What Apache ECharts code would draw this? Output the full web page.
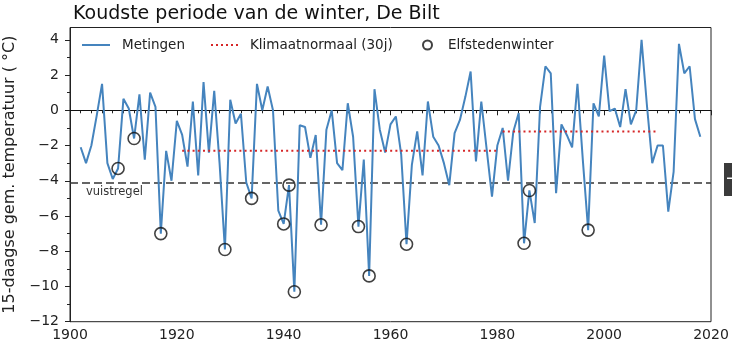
<!DOCTYPE html>
<html>
<head>
<meta charset="utf-8">
<script src="https://cdn.jsdelivr.net/npm/echarts@6/dist/echarts.min.js"></script>
<style>
  html, body { margin: 0; padding: 0; background: #fff; }
  #chart { width: 732px; height: 346px; }
</style>
</head>
<body>
<div id="chart"></div>
<script>
// Coldest 15-day period of each winter, De Bilt (°C), winters 1902–2018
const firstYear = 1902;
const temps = [
  -2.1, -3.0, -2.0, -0.3, 1.5, -3.0, -3.9, -3.3,                 // 1902–1909
  0.65, 0.1, -1.6, 0.9, -2.8, 1.0, 0.2, -7.0, -2.3, -4.0,         // 1910s
  -0.6, -1.4, -3.2, 0.5, -3.7, 1.6, -2.4, 1.1, -3.0, -7.9,        // 1920s
  0.6, -0.75, -0.2, -4.1, -5.0, 1.5, 0.0, 1.35, 0.0, -5.7,        // 1930s
  -6.45, -4.25, -10.3, -0.85, -0.95, -2.7, -1.4, -6.5, -1.1, 0.0, // 1940s
  -3.0, -3.4, 0.4, -1.5, -6.6, -2.8, -9.4, 1.2, -1.1, -2.4,       // 1950s
  -0.8, -0.35, -2.5, -7.6, -3.1, -1.2, -3.7, 0.5, -1.5, -2.0,     // 1960s
  -3.0, -4.25, -1.3, -0.55, 0.75, 2.2, -2.9, 0.5, -2.2, -4.9,     // 1970s
  -2.0, -1.0, -4.0, -1.2, -0.15, -7.55, -4.55, -6.4, 0.2, 2.5,    // 1980s
  2.1, -4.7, -0.8, -1.4, -2.1, 1.5, -2.8, -6.8, 0.4, -0.35,       // 1990s
  3.1, -0.05, 0.1, -0.95, 1.2, -0.8, 0.0, 4.0, 0.3, -3.0,         // 2000s
  -2.0, -2.0, -5.75, -3.5, 3.77, 2.1, 2.5, -0.5, -1.5             // 2010–2018
];

// Winters in which an Elfstedentocht was held
const elfstedenYears = [1909, 1912, 1917, 1929, 1934, 1940, 1941, 1942, 1947, 1954, 1956, 1963, 1985, 1986, 1997];

// 30-year climate normals
const normalStart = [1921, 1981];
const normalEnd = [1980, 2010];
const normalValue = [-2.3, -1.2];

// Rule-of-thumb threshold
const vuistregel = -4.1;

// Axis ticks
const xTicks = [1900, 1920, 1940, 1960, 1980, 2000, 2020];
const yTickLabels = [-12, -10, -8, -6, -4, -2, 0, 2, 4];
const yMinorTicks = [-11, -9, -7, -5, -3, -1, 1, 3];

const FONT = 'DejaVu Sans';
const BLUE = '#4584be';
const RED = '#d62728';
const INK = '#222';

const measured = temps.map((v, i) => [firstYear + i, v]);
const elfsteden = elfstedenYears.map(y => [y, temps[y - firstYear]]);

const normalSeries = normalStart.map((s, i) => ({
  name: 'Klimaatnormaal (30j)',
  type: 'line',
  symbol: 'none',
  data: [[s, normalValue[i]], [normalEnd[i], normalValue[i]]],
  lineStyle: { color: RED, width: 2, type: [2, 3.2] },
  itemStyle: { color: RED },
  z: 4
}));

// Legend keys: a solid stroke, a row of dots, and a hollow marker
const solidKey = 'path://M0,0H28V2H0Z';
const dottedKey = 'path://M0,0h2v2h-2zM5,0h2v2h-2zM10,0h2v2h-2zM15,0h2v2h-2zM20,0h2v2h-2zM25,0h2v2h-2z';

const legendText = { fontFamily: FONT, fontSize: 13.5, color: INK };

const chart = echarts.init(document.getElementById('chart'), null, { renderer: 'canvas' });

const option = {
  animation: false,
  backgroundColor: '#fff',
  textStyle: { fontFamily: FONT },
  title: {
    text: 'Koudste periode van de winter, De Bilt',
    left: 68,
    top: 0,
    textStyle: { fontFamily: FONT, fontSize: 19, fontWeight: 'normal', color: '#111' }
  },
  legend: [
    {
      data: [{ name: 'Metingen', icon: solidKey }],
      left: 82, top: 38, padding: 0, itemWidth: 28, itemHeight: 2,
      textStyle: Object.assign({ padding: [0, 0, 0, 7] }, legendText)
    },
    {
      data: [{ name: 'Klimaatnormaal (30j)', icon: dottedKey }],
      left: 211, top: 38, padding: 0, itemWidth: 27, itemHeight: 2,
      textStyle: Object.assign({ padding: [0, 0, 0, 7] }, legendText)
    },
    {
      data: [{ name: 'Elfstedenwinter', icon: 'circle' }],
      left: 422, top: 38, padding: 0, itemWidth: 9, itemHeight: 9,
      textStyle: Object.assign({ padding: [0, 0, 0, 11] }, legendText)
    }
  ],
  grid: {
    left: 70, right: 21, top: 27.5, bottom: 24.3,
    outerBoundsMode: 'none',
    containLabel: false,
    show: true, borderColor: INK, borderWidth: 1, backgroundColor: 'transparent'
  },
  xAxis: {
    type: 'value',
    min: xTicks[0],
    max: xTicks[xTicks.length - 1],
    interval: 20,
    axisLine: { show: true, lineStyle: { color: INK, width: 1 } },
    axisTick: { show: true, inside: false, length: 5, lineStyle: { color: INK } },
    minorTick: { show: true, splitNumber: 10, length: 3, lineStyle: { color: INK } },
    axisLabel: { fontFamily: FONT, fontSize: 14, color: INK, margin: 7, formatter: v => String(v) },
    splitLine: { show: false },
    minorSplitLine: { show: false }
  },
  yAxis: [
    {
      type: 'value',
      min: -12,
      max: 4.7,
      position: 'left',
      name: '15-daagse gem. temperatuur ( °C)',
      nameLocation: 'middle',
      nameRotate: 90,
      nameGap: 52,
      nameTextStyle: { fontFamily: FONT, fontSize: 16, color: INK },
      axisLine: { show: true, lineStyle: { color: INK, width: 1 } },
      axisTick: { show: true, inside: false, length: 5, customValues: yTickLabels, lineStyle: { color: INK } },
      axisLabel: {
        fontFamily: FONT, fontSize: 14, color: INK, margin: 11,
        customValues: yTickLabels,
        formatter: v => String(v).replace('-', '\u2212')
      },
      splitLine: { show: false }
    },
    {
      type: 'value',
      min: -12,
      max: 4.7,
      position: 'left',
      axisLine: { show: false },
      axisTick: { show: true, inside: false, length: 3, customValues: yMinorTicks, lineStyle: { color: INK } },
      axisLabel: { show: false },
      splitLine: { show: false }
    }
  ],
  series: [
    {
      name: 'Metingen',
      type: 'line',
      symbol: 'none',
      data: measured,
      lineStyle: { color: BLUE, width: 2 },
      itemStyle: { color: BLUE },
      z: 3,
      markLine: {
        silent: true,
        symbol: 'none',
        label: { show: false },
        z: 2,
        data: [
          { yAxis: 0, lineStyle: { color: '#111', width: 1.2, type: 'solid' } },
          { yAxis: vuistregel, lineStyle: { color: '#333', width: 1.5, type: [8, 4] } }
        ]
      }
    },
    ...normalSeries,
    {
      name: 'Elfstedenwinter',
      type: 'scatter',
      symbol: 'circle',
      symbolSize: 12,
      data: elfsteden,
      itemStyle: { color: 'rgba(255,255,255,0)', borderColor: '#111', borderWidth: 1.6 },
      z: 5
    }
  ]
};

chart.setOption(option);

// Label under the rule-of-thumb line, plus the small dark tab at the right edge
const p = chart.convertToPixel({ xAxisIndex: 0, yAxisIndex: 0 }, [xTicks[0], vuistregel]);
chart.setOption({
  graphic: [
    {
      type: 'text',
      left: p[0] + 16,
      top: p[1] + 3,
      style: { text: 'vuistregel', font: '11.5px "DejaVu Sans"', fill: '#333' },
      silent: true
    },
    {
      type: 'rect',
      shape: { x: 724, y: 163, width: 10, height: 33 },
      style: { fill: '#3b3b3b' },
      silent: true
    },
    {
      type: 'rect',
      shape: { x: 727, y: 177.5, width: 5, height: 1.5 },
      style: { fill: '#fff' },
      silent: true
    }
  ]
});
</script>
</body>
</html>
